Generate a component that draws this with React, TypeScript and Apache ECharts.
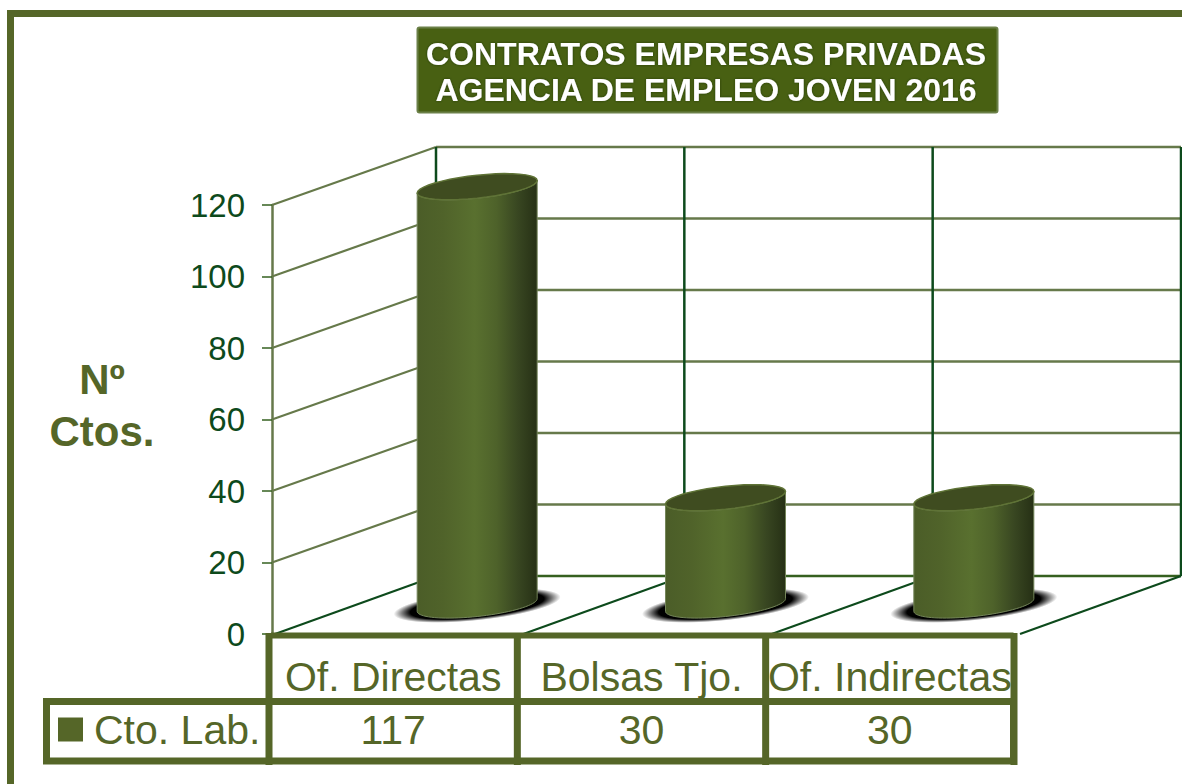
import React, { useEffect, useRef } from "react";
import * as echarts from "echarts";

const categories = ["Of. Directas", "Bolsas Tjo.", "Of. Indirectas"];
const contracts = [117, 30, 30];
const yTicks = [0, 20, 40, 60, 80, 100, 120];
const seriesName = "Cto. Lab.";
const titleText = "CONTRATOS EMPRESAS PRIVADAS\nAGENCIA DE EMPLEO JOVEN 2016";
const yTitle = "Nº\nCtos.";

const OLIVE = "#556628";
const DARK = "#0d4a1c";
const WALL = "#66794a";
const DX = 164;
const DY = -58;
const FONT = "'Liberation Sans', Arial, sans-serif";

function ellipsePts(cx: number, cy: number, from: number, to: number) {
  const rx = 60;
  const slope = 0.105;
  const b = 11.5;
  const pts: number[][] = [];
  const n = 40;
  for (let i = 0; i <= n; i++) {
    const t = from + ((to - from) * i) / n;
    const c = Math.cos(t);
    const s = Math.sin(t);
    pts.push([cx + rx * c, cy - rx * slope * c + b * s]);
  }
  return pts;
}

export default function App() {
  const ref = useRef<HTMLDivElement>(null);
  useEffect(() => {
    const chart = echarts.init(ref.current!, undefined, { renderer: "svg" });
    const line = (x1: number, y1: number, x2: number, y2: number, stroke: string, lineWidth: number) => ({
      type: "line",
      shape: { x1, y1, x2, y2 },
      style: { stroke, lineWidth },
    });

    const renderWall = (params: any, api: any) => {
      const cs = params.coordSys;
      const y = api.coord([0, api.value(1)])[1];
      const isFloor = api.value(1) === 0;
      const stroke = isFloor ? "#35601f" : WALL;
      return {
        type: "group",
        children: [
          line(cs.x + DX, y + DY, cs.x + cs.width + DX, y + DY, stroke, 2.5),
          ...(isFloor ? [] : [line(cs.x, y, cs.x + DX, y + DY, WALL, 2.2)]),
        ],
      };
    };

    const renderBoundary = (params: any, api: any) => {
      const cs = params.coordSys;
      const i = api.value(0);
      const step = cs.width / categories.length;
      const x = cs.x + i * step;
      const y0 = cs.y + cs.height;
      return {
        type: "group",
        children: [
          line(x + DX, cs.y + DY, x + DX, y0 + DY, DARK, 2.5),
          line(x + 3, y0, x + DX, y0 + DY, DARK, 2.2),
        ],
      };
    };

    const renderCylinder = (params: any, api: any) => {
      const idx = api.value(0);
      const base = api.coord([idx, 0]);
      const top = api.coord([idx, api.value(1)]);
      const cx = base[0] + DX / 2 - 1;
      const by = base[1] + DY / 2;
      const ty = top[1] + DY / 2;
      const bottomArc = ellipsePts(cx, by, Math.PI, 0);
      const topFull = ellipsePts(cx, ty, 0, Math.PI * 2);
      const body = [...bottomArc, ...ellipsePts(cx, ty, 0, Math.PI)];
      const bodyGrad = new echarts.graphic.LinearGradient(0, 0, 1, 0, [
        { offset: 0, color: "#4b5d28" },
        { offset: 0.22, color: "#50632a" },
        { offset: 0.48, color: "#59702f" },
        { offset: 0.66, color: "#4e622a" },
        { offset: 0.84, color: "#384621" },
        { offset: 1, color: "#263015" },
      ]);
      const shadowGrad = new echarts.graphic.RadialGradient(0.5, 0.5, 0.5, [
        { offset: 0, color: "rgba(0,0,0,1)" },
        { offset: 0.8, color: "rgba(0,0,0,1)" },
        { offset: 1, color: "rgba(0,0,0,0)" },
      ]);
      return {
        type: "group",
        children: [
          {
            type: "ellipse",
            x: cx,
            y: by + 0.5,
            rotation: 0.105,
            shape: { cx: 0, cy: 0, rx: 84, ry: 15 },
            style: { fill: shadowGrad },
          },
          {
            type: "polygon",
            shape: { points: body },
            style: { fill: bodyGrad, stroke: "#74855a", lineWidth: 1 },
          },
          {
            type: "polygon",
            shape: { points: topFull },
            style: { fill: "#3f4c20", stroke: "#5f7336", lineWidth: 1.5 },
          },
          {
            type: "text",
            style: {
              x: base[0] - 3,
              y: 730,
              text: String(api.value(1)),
              fill: OLIVE,
              font: `41px ${FONT}`,
              align: "center",
              verticalAlign: "middle",
            },
          },
        ],
      };
    };

    const renderTable = (params: any, api: any) => {
      const cs = params.coordSys;
      const i = api.value(0);
      const step = cs.width / categories.length;
      const x = cs.x + i * step - 3;
      return {
        type: "group",
        children: [line(x, 633, x, 765, OLIVE, 7)],
      };
    };

    chart.setOption({
      animation: false,
      backgroundColor: "#ffffff",
      title: {
        text: titleText,
        left: 701,
        top: 31,
        textAlign: "center",
        textStyle: {
          color: "#ffffff",
          fontFamily: FONT,
          fontWeight: "bold",
          fontSize: 32,
          lineHeight: 36,
          textShadowColor: "rgba(30,45,0,0.8)",
          textShadowBlur: 2,
        },
      },
      legend: {
        left: 53,
        top: 704,
        icon: "rect",
        itemWidth: 25,
        itemHeight: 24,
        itemGap: 0,
        selectedMode: false,
        data: [seriesName],
        textStyle: { color: OLIVE, fontFamily: FONT, fontSize: 41, padding: [0, 0, 0, 6] },
      },
      grid: { left: 272, top: 205, width: 745, height: 429, containLabel: false },
      xAxis: {
        type: "category",
        data: categories,
        axisLine: { show: false },
        axisTick: { show: false },
        splitLine: { show: false },
        axisLabel: {
          interval: 0,
          color: OLIVE,
          fontFamily: FONT,
          fontSize: 41,
          margin: 22,
          overflow: "none",
          hideOverlap: false,
          padding: [0, 6, 0, 0],
        },
      },
      yAxis: {
        type: "value",
        min: 0,
        max: 120,
        interval: 20,
        axisLine: { show: true, lineStyle: { color: WALL, width: 2.5 } },
        axisTick: { show: true, length: 10, lineStyle: { color: "#35601f", width: 1.5 } },
        splitLine: { show: false },
        axisLabel: { color: DARK, fontFamily: FONT, fontSize: 33, margin: 27 },
      },
      graphic: [
        {
          type: "polyline",
          silent: true,
          shape: { points: [[10.5, 800], [10.5, 13.5], [1200, 13.5]] },
          style: { stroke: OLIVE, lineWidth: 7, fill: "none" },
          z: 1,
        },
        {
          type: "rect",
          silent: true,
          shape: { x: 417.5, y: 27.5, width: 580, height: 85, r: 2 },
          style: { fill: "#486012", stroke: "#6b8048", lineWidth: 2 },
          z: 1,
        },
        {
          type: "text",
          silent: true,
          z: 10,
          style: {
            x: 102,
            y: 405,
            text: yTitle,
            fill: OLIVE,
            font: `bold 42px ${FONT}`,
            lineHeight: 52,
            align: "center",
            verticalAlign: "middle",
          },
        },
        {
          type: "polyline",
          silent: true,
          z: 9,
          shape: { points: [[1013.5, 635.5], [271, 635.5]] },
          style: { stroke: OLIVE, lineWidth: 6, fill: "none" },
        },
        {
          type: "polygon",
          silent: true,
          z: 9,
          shape: { points: [[46.5, 701.5], [1013.5, 701.5], [1013.5, 761], [46.5, 761]] },
          style: { stroke: OLIVE, lineWidth: 7, fill: "none" },
        },
      ],
      series: [
        {
          type: "custom",
          name: "walls",
          z: 1,
          data: yTicks.map((v) => [0, v]),
          encode: { x: 0, y: 1 },
          renderItem: renderWall,
          silent: true,
        },
        {
          type: "custom",
          name: "boundaries",
          z: 1,
          data: [0, 1, 2, 3].map((i) => [i, 0]),
          renderItem: renderBoundary,
          silent: true,
        },
        {
          type: "custom",
          name: seriesName,
          z: 3,
          itemStyle: { color: OLIVE },
          data: contracts.map((v, i) => [i, v]),
          encode: { x: 0, y: 1 },
          renderItem: renderCylinder,
          silent: true,
        },
        {
          type: "custom",
          name: "table",
          z: 5,
          data: [0, 1, 2, 3].map((i) => [i, 0]),
          renderItem: renderTable,
          silent: true,
        },
      ],
    });
    return () => chart.dispose();
  }, []);
  return (
    <div
      ref={ref}
      style={{ position: "fixed", left: 0, top: 0, width: 1182, height: 784 }}
    />
  );
}
